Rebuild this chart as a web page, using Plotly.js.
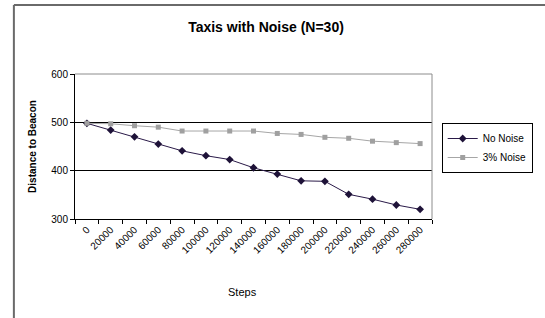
<!DOCTYPE html>
<html>
<head>
<meta charset="utf-8">
<script src="https://cdn.plot.ly/plotly-3.0.1.min.js"></script>
<style>
  html, body { margin: 0; padding: 0; background: #fff; }
  #chart { width: 545px; height: 318px; }
</style>
</head>
<body>
<div id="chart"></div>
<script>
const steps = ["0","20000","40000","60000","80000","100000","120000","140000","160000","180000","200000","220000","240000","260000","280000"];
const noNoise = [498, 484, 470, 455, 441, 431, 423, 406, 393, 379, 378, 351, 341, 329, 320];
const noise3 = [498, 497, 493, 490, 482, 482, 482, 482, 477, 475, 469, 467, 461, 458, 456];
const seriesNames = ["No Noise", "3% Noise"];

const W = 545, H = 318;
const L = 75, R = 102, T = 74, B = 99;
const pw = W - L - R, ph = H - T - B;
const px = x => (x - L) / pw;
const py = y => (H - B - y) / ph;

const traces = [
  {
    x: steps, y: noNoise, name: seriesNames[0], type: "scatter", mode: "lines+markers",
    line: { color: "#2a1a48", width: 1 },
    marker: { symbol: "diamond", size: 6, color: "#1e1238" }
  },
  {
    x: steps, y: noise3, name: seriesNames[1], type: "scatter", mode: "lines+markers",
    line: { color: "#a6a6a6", width: 1 },
    marker: { symbol: "square", size: 5, color: "#a0a0a0" }
  }
];

const layout = {
  width: W, height: H,
  margin: { l: L, r: R, t: T, b: B, pad: 0 },
  paper_bgcolor: "#ffffff", plot_bgcolor: "#ffffff",
  font: { family: "Liberation Sans, Arial, sans-serif", color: "#000", size: 9 },
  title: {
    text: "<b>Taxis with Noise (N=30)</b>",
    font: { size: 14, family: "Liberation Sans, Arial, sans-serif" },
    x: 266 / W, xanchor: "center", xref: "container",
    y: 1 - 27 / H, yanchor: "middle", yref: "container"
  },
  xaxis: {
    type: "category", tickson: "boundaries", range: [-0.5, 14.5],
    showline: true, linecolor: "#000", linewidth: 1,
    ticks: "outside", ticklen: 4, tickcolor: "#000",
    tickangle: -45, tickfont: { size: 10 },
    showgrid: false, zeroline: false, mirror: false
  },
  yaxis: {
    range: [300, 600], dtick: 100, tick0: 300,
    showline: true, linecolor: "#000", linewidth: 1,
    ticks: "outside", ticklen: 4, tickcolor: "#000",
    tickfont: { size: 10 },
    showgrid: true, gridcolor: "#000", gridwidth: 1,
    zeroline: false,
    title: { text: "<b>Distance to Beacon</b>", font: { size: 10 }, standoff: 12 }
  },
  showlegend: true,
  legend: {
    x: px(453), xanchor: "left", y: py(123), yanchor: "top",
    bordercolor: "#000", borderwidth: 1, bgcolor: "#fff",
    font: { size: 10 }, tracegroupgap: 4, itemwidth: 30
  },
  shapes: [
    { type: "line", xref: "paper", yref: "paper", x0: 0, x1: 1, y0: 1, y1: 1, line: { color: "#8c8c8c", width: 1 } },
    { type: "line", xref: "paper", yref: "paper", x0: 1, x1: 1, y0: 0, y1: 1, line: { color: "#8c8c8c", width: 1 } },
    { type: "line", xref: "paper", yref: "paper", x0: px(12), x1: px(560), y0: py(5), y1: py(5), line: { color: "#6a6a6a", width: 2 } },
    { type: "line", xref: "paper", yref: "paper", x0: px(12), x1: px(12), y0: py(5), y1: py(330), line: { color: "#6a6a6a", width: 2 } }
  ],
  annotations: [
    { text: "Steps", xref: "paper", yref: "paper", x: px(248), y: py(292), xanchor: "center", yanchor: "middle", showarrow: false, font: { size: 11 } }
  ]
};

Plotly.newPlot("chart", traces, layout, { displayModeBar: false, staticPlot: true });
</script>
</body>
</html>
